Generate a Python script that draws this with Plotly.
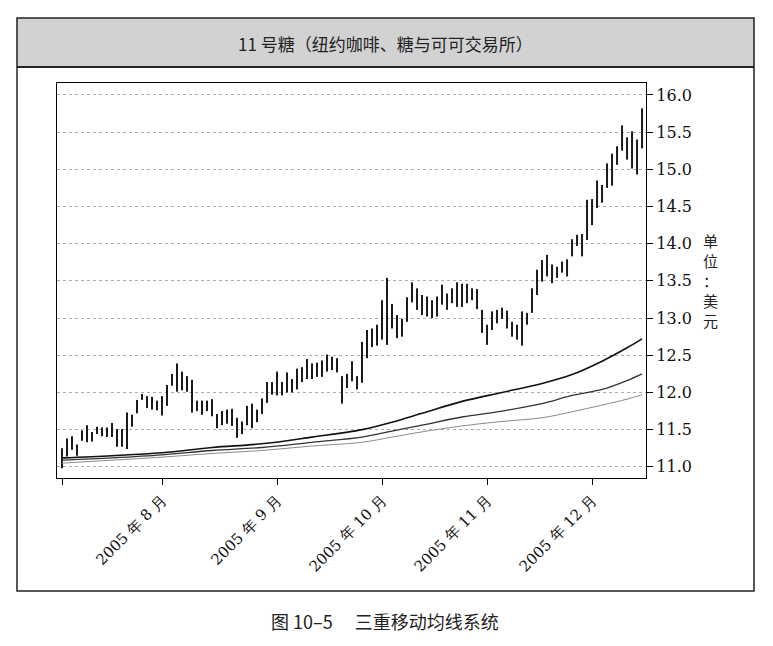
import pandas as pd
import plotly.graph_objects as go

# trading days, NYBOT sugar #11, Jul 1 - Dec 15 2005
holidays = ["2005-07-04", "2005-09-05", "2005-11-24"]
days = pd.bdate_range("2005-07-01", "2005-12-15")
days = days[~days.isin(pd.to_datetime(holidays))]

high = [11.25, 11.38, 11.41, 11.30, 11.49, 11.56, 11.47, 11.54, 11.53, 11.53,
        11.59, 11.51, 11.51, 11.73, 11.70, 11.90, 11.98, 11.95, 11.94, 11.89,
        11.95, 12.10, 12.25, 12.39, 12.28, 12.22, 12.17, 11.89, 11.89, 11.89,
        11.91, 11.71, 11.75, 11.77, 11.78, 11.66, 11.61, 11.82, 11.85, 11.77,
        11.92, 12.14, 12.14, 12.28, 12.14, 12.27, 12.18, 12.32, 12.34, 12.45,
        12.39, 12.40, 12.43, 12.51, 12.48, 12.46, 12.22, 12.25, 12.42, 12.22,
        12.68, 12.84, 12.86, 12.91, 13.24, 13.54, 13.19, 13.04, 12.99, 13.28,
        13.48, 13.40, 13.31, 13.29, 13.24, 13.29, 13.45, 13.33, 13.40, 13.48,
        13.46, 13.46, 13.40, 13.39, 13.11, 12.91, 13.09, 13.11, 13.14, 13.10,
        12.95, 12.91, 13.09, 13.07, 13.40, 13.65, 13.78, 13.85, 13.72, 13.69,
        13.76, 13.79, 14.06, 14.12, 14.13, 14.59, 14.60, 14.85, 14.79, 15.08,
        15.21, 15.31, 15.59, 15.43, 15.51, 15.40, 15.82]
low = [10.98, 11.14, 11.23, 11.15, 11.35, 11.33, 11.34, 11.44, 11.41, 11.40,
       11.40, 11.27, 11.27, 11.24, 11.54, 11.72, 11.90, 11.79, 11.77, 11.76,
       11.69, 11.82, 12.09, 12.01, 12.03, 12.01, 11.73, 11.75, 11.70, 11.75,
       11.68, 11.52, 11.56, 11.58, 11.55, 11.39, 11.44, 11.56, 11.52, 11.60,
       11.71, 11.86, 11.97, 11.96, 11.96, 12.00, 12.00, 12.04, 12.14, 12.18,
       12.18, 12.21, 12.21, 12.28, 12.30, 12.27, 11.85, 12.06, 12.15, 12.04,
       12.13, 12.46, 12.61, 12.63, 12.71, 12.64, 12.86, 12.73, 12.75, 12.95,
       13.21, 13.11, 13.04, 13.02, 13.00, 13.02, 13.18, 13.11, 13.20, 13.15,
       13.15, 13.20, 13.24, 13.12, 12.80, 12.64, 12.84, 12.93, 12.99, 12.86,
       12.75, 12.71, 12.63, 12.91, 13.07, 13.31, 13.49, 13.56, 13.47, 13.54,
       13.61, 13.56, 13.83, 13.97, 13.83, 14.05, 14.25, 14.48, 14.55, 14.75,
       14.78, 15.06, 15.25, 15.13, 15.01, 14.93, 15.28]

# three moving averages, read at selected trading days (index into days)
ma_idx = [0, 10, 20, 30, 40, 50, 60, 66, 72, 80, 88, 96, 102, 108, 113, 116]
ma_fast = [11.12, 11.15, 11.19, 11.26, 11.31, 11.40, 11.50, 11.60, 11.72, 11.88,
           12.00, 12.12, 12.24, 12.42, 12.60, 12.72]
ma_mid = [11.09, 11.12, 11.16, 11.22, 11.26, 11.33, 11.40, 11.48, 11.56, 11.67,
          11.75, 11.85, 11.96, 12.04, 12.16, 12.25]
ma_slow = [11.05, 11.09, 11.13, 11.18, 11.22, 11.28, 11.33, 11.40, 11.47, 11.55,
           11.61, 11.66, 11.74, 11.83, 11.91, 11.97]

# first trading day of each month
month_ticks = ["2005-07-01", "2005-08-01", "2005-09-01", "2005-10-03", "2005-11-01", "2005-12-01"]
month_labels = ["", "2005 年 8 月", "2005 年 9 月", "2005 年 10 月", "2005 年 11 月", "2005 年 12 月"]

unit_chars = ["单", "位", "：", "美", "元"]

# high-low bars as segments
bx, by = [], []
for d, h, l in zip(days, high, low):
    bx += [d, d, None]
    by += [l, h, None]

fig = go.Figure()
fig.add_trace(go.Scatter(x=bx, y=by, mode="lines", line=dict(color="#1a1a1a", width=2),
                         connectgaps=False, showlegend=False))
ma_days = days[ma_idx]
fig.add_trace(go.Scatter(x=ma_days, y=ma_slow, mode="lines", line=dict(color="#8a8a8a", width=1),
                         line_shape="spline", showlegend=False))
fig.add_trace(go.Scatter(x=ma_days, y=ma_mid, mode="lines", line=dict(color="#333", width=1.3),
                         line_shape="spline", showlegend=False))
fig.add_trace(go.Scatter(x=ma_days, y=ma_fast, mode="lines", line=dict(color="#111", width=1.6),
                         line_shape="spline", showlegend=False))

# plot area in pixels: x 57..646, y 83..478
L, R, T, B = 57, 646, 83, 478
def px(x):
    return (x - L) / (R - L)
def py(y):
    return (B - y) / (B - T)

serif = "DejaVu Serif"
cjk = "Noto Sans CJK SC"

annotations = [
    dict(text="11 号糖（纽约咖啡、糖与可可交易所）", xref="paper", yref="paper",
         x=px(385), y=py(44), xanchor="center", yanchor="middle", showarrow=False,
         font=dict(family=cjk, size=17, color="#222")),
    dict(text="图 10–5　 三重移动均线系统", xref="paper", yref="paper",
         x=px(385), y=py(621), xanchor="center", yanchor="middle", showarrow=False,
         font=dict(family=cjk, size=18, color="#222")),
]
# vertical unit label, one character per line
for ch, yy in zip(unit_chars, [240, 260, 280, 300, 320]):
    annotations.append(dict(text=ch, xref="paper", yref="paper", x=px(710), y=py(yy),
                            xanchor="center", yanchor="middle", showarrow=False, borderpad=0,
                            font=dict(family=cjk, size=15, color="#222")))

fig.update_layout(
    width=773, height=646,
    margin=dict(l=L, r=773 - R, t=T, b=646 - B),
    paper_bgcolor="white", plot_bgcolor="white",
    xaxis=dict(
        type="date",
        range=["2005-06-30", "2005-12-15 19:00"],
        rangebreaks=[dict(bounds=["sat", "mon"]), dict(values=holidays)],
        tickvals=month_ticks, ticktext=month_labels,
        tickangle=-45, ticks="outside", ticklen=6, tickcolor="black",
        tickfont=dict(family=serif, size=15, color="#111"),
        showgrid=False, showline=True, linecolor="black", linewidth=1.2, mirror=True,
        zeroline=False,
    ),
    yaxis=dict(
        side="right",
        range=[10.85, 16.16],
        tickvals=[11.0, 11.5, 12.0, 12.5, 13.0, 13.5, 14.0, 14.5, 15.0, 15.5, 16.0],
        tickformat=".1f",
        ticks="outside", ticklen=6, tickcolor="black",
        tickfont=dict(family=serif, size=16, color="#111"),
        showgrid=True, gridcolor="#ababab", griddash="dot", gridwidth=1,
        showline=True, linecolor="black", linewidth=1.2, mirror=True,
        zeroline=False,
    ),
    shapes=[
        dict(type="rect", xref="paper", yref="paper", x0=px(17), x1=px(754), y0=py(67), y1=py(18),
             fillcolor="#d2d2d2", line=dict(width=0), layer="below"),
        dict(type="rect", xref="paper", yref="paper", x0=px(17), x1=px(754), y0=py(591), y1=py(18),
             line=dict(color="#222", width=1.5)),
        dict(type="line", xref="paper", yref="paper", x0=px(17), x1=px(754), y0=py(67), y1=py(67),
             line=dict(color="#222", width=2)),
    ],
    annotations=annotations,
)

fig.write_html("out.html", config={"displayModeBar": False},
               post_script="document.body.style.margin='0';document.body.style.overflow='hidden';")
